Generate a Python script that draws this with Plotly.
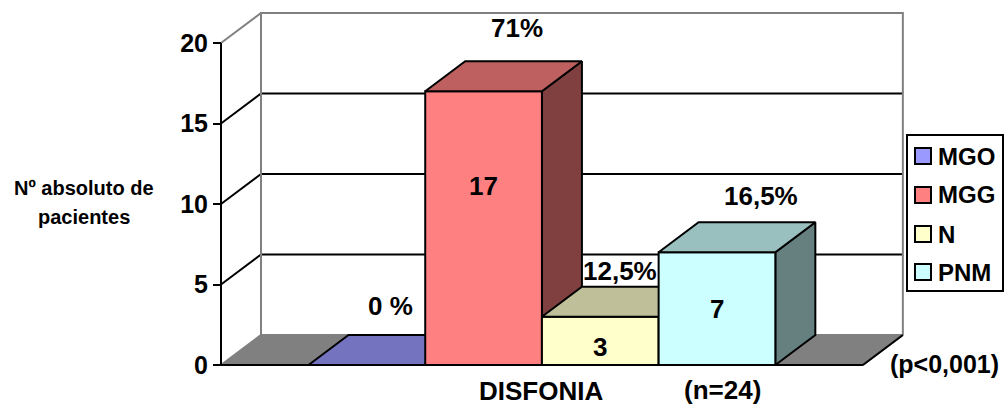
import plotly.graph_objects as go

# ---- data -------------------------------------------------------------
categories = ["MGO", "MGG", "N", "PNM"]
values = [0, 17, 3, 7]
pct_labels = ["0 %", "71%", "12,5%", "16,5%"]
y_ticks = [0, 5, 10, 15, 20]
group_label = "DISFONIA"
n_label = "(n=24)"
p_label = "(p<0,001)"
y_title_lines = ["Nº absoluto de", "pacientes"]

# ---- styles -----------------------------------------------------------
front_colors = ["#9999FF", "#FF8080", "#FFFFCC", "#CCFFFF"]
top_colors = ["#7373BF", "#BF6060", "#BFBF99", "#99BFBF"]
side_colors = ["#4D4D80", "#804040", "#80806A", "#668080"]
WALL_GREY = "#808080"
FONT = "Liberation Sans, Arial, sans-serif"

W, H = 1007, 409
X0_PX, UNIT_X = 221, 116.7     # front value axis position, width of one bar
Y0_PX, UNIT_Y = 365, 16.1      # baseline position, pixels per patient

GAP = 0.75                     # half of the 150% gap width
DX, DY = 40 / UNIT_X, 30 / UNIT_Y   # depth offset of the 3-D box
XMAX = len(values) + 2 * GAP
YMAX = y_ticks[-1]

fig = go.Figure()


def poly(xs, ys, fill, line="black", lw=2):
    fig.add_trace(go.Scatter(
        x=list(xs) + [xs[0]], y=list(ys) + [ys[0]], mode="lines",
        fill="toself", fillcolor=fill, line=dict(color=line, width=lw),
        hoverinfo="skip", showlegend=False))


def seg(xs, ys, color="black", lw=2):
    fig.add_trace(go.Scatter(
        x=list(xs), y=list(ys), mode="lines",
        line=dict(color=color, width=lw),
        hoverinfo="skip", showlegend=False))


# back wall gridlines and side-wall diagonals
for v in y_ticks[1:-1]:
    seg([DX, XMAX + DX], [v + DY, v + DY])
    seg([0, DX], [v, v + DY])
seg([0, DX], [YMAX, YMAX + DY], WALL_GREY)
# back wall frame
seg([DX, DX, XMAX + DX, XMAX + DX], [DY, YMAX + DY, YMAX + DY, DY], WALL_GREY)

# floor
poly([0, XMAX, XMAX + DX, DX], [0, 0, DY, DY], WALL_GREY, line=WALL_GREY)
seg([XMAX, XMAX + DX], [0, DY])

# bars, drawn left to right so each one hides the side of the previous
for i, v in enumerate(values):
    x0 = GAP + i
    x1 = x0 + 1
    if v > 0:
        poly([x1, x1 + DX, x1 + DX, x1], [0, DY, v + DY, v], side_colors[i])
        poly([x0, x1, x1, x0], [0, 0, v, v], front_colors[i])
    poly([x0, x1, x1 + DX, x0 + DX], [v, v, v + DY, v + DY], top_colors[i])

# front value axis and baseline
seg([0, 0], [0, YMAX])
seg([0, XMAX], [0, 0])

# ---- text -------------------------------------------------------------
ann = []


def text(x, y, s, size, ref="data", xanchor="center"):
    d = dict(x=x, y=y, text=s, showarrow=False,
             xanchor=xanchor, yanchor="middle",
             font=dict(family=FONT, size=size, color="black", weight="bold"))
    if ref == "paper":
        d.update(xref="paper", yref="paper", x=x / W, y=1 - y / H)
    ann.append(d)


# value labels on the bar faces
val_y = [None, 11.1, 1.1, 3.5]
for i, v in enumerate(values):
    if v > 0:
        text(GAP + i + 0.5, val_y[i], str(v), 26)

# percentage labels
pct_pos = [(1.45, 3.66), (2.54, 20.93), (3.42, 5.81), (4.63, 10.5)]
for (px, py), s in zip(pct_pos, pct_labels):
    text(px, py, s, 26)

text(541, 391, group_label, 26, ref="paper")
text(722, 390, n_label, 26, ref="paper")
text(944, 364, p_label, 25, ref="paper")
for line_text, ly in zip(y_title_lines, [188, 217]):
    text(84, ly, line_text, 20, ref="paper")

# legend box
shapes = [dict(type="rect", xref="paper", yref="paper",
               x0=907 / W, x1=1003 / W, y0=1 - 291 / H, y1=1 - 135 / H,
               line=dict(color="black", width=2), fillcolor="white")]
leg_y = [156, 195, 234, 272]
for c, name, ly in zip(front_colors, categories, leg_y):
    shapes.append(dict(type="rect", xref="paper", yref="paper",
                       x0=915 / W, x1=931 / W,
                       y0=1 - (ly + 8) / H, y1=1 - (ly - 8) / H,
                       line=dict(color="black", width=2), fillcolor=c))
    text(936, ly, name, 24, ref="paper", xanchor="left")

fig.update_layout(
    width=W, height=H,
    margin=dict(l=0, r=0, t=0, b=0),
    paper_bgcolor="white", plot_bgcolor="white",
    showlegend=False,
    annotations=ann, shapes=shapes,
    xaxis=dict(range=[-X0_PX / UNIT_X, (W - X0_PX) / UNIT_X], domain=[0, 1],
               visible=False, fixedrange=True),
    yaxis=dict(range=[-(H - Y0_PX) / UNIT_Y, Y0_PX / UNIT_Y], domain=[0, 1],
               anchor="free", position=X0_PX / W,
               showgrid=False, zeroline=False, showline=False,
               tickmode="array", tickvals=y_ticks,
               ticks="outside", ticklen=8, tickwidth=2, tickcolor="black",
               tickfont=dict(family=FONT, size=25, color="black", weight="bold"),
               fixedrange=True),
)

fig.write_html("out.html")
